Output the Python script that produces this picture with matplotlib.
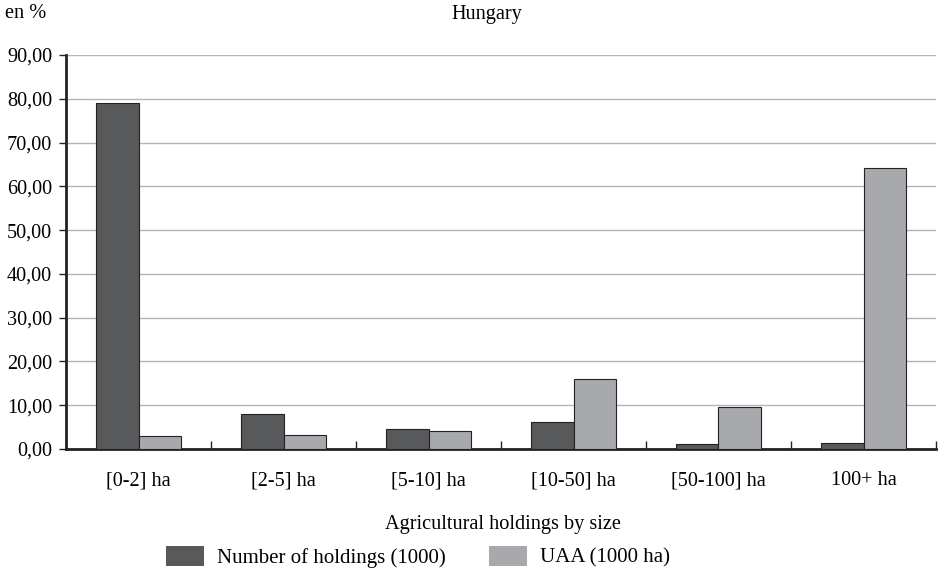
import matplotlib
matplotlib.use("Agg")
import matplotlib.pyplot as plt
import numpy as np
from matplotlib.patches import Patch

categories = ["[0-2] ha", "[2-5] ha", "[5-10] ha", "[10-50] ha", "[50-100] ha", "100+ ha"]
holdings = [79.0, 8.0, 4.6, 6.1, 1.1, 1.3]
uaa = [3.0, 3.1, 4.0, 16.1, 9.7, 64.2]
yticks = [0, 10, 20, 30, 40, 50, 60, 70, 80, 90]
ytick_labels = ["0,00", "10,00", "20,00", "30,00", "40,00", "50,00", "60,00", "70,00", "80,00", "90,00"]

plt.rcParams['font.family'] = ['Liberation Serif', 'DejaVu Serif']
fs = 14.6

fig = plt.figure(figsize=(9.39, 5.71), dpi=100)
ax = fig.add_axes([66/939, (571-449)/571, (936-66)/939, 394/571])

x = np.arange(len(categories))
w = 0.29
dark = "#58595b"
light = "#a7a9ac"
ax.bar(x - w/2, holdings, w, color=dark, edgecolor="#222222", linewidth=0.8, zorder=3)
ax.bar(x + w/2, uaa, w, color=light, edgecolor="#222222", linewidth=0.8, zorder=3)

ax.set_xlim(-0.5, len(categories) - 0.5)
ax.set_ylim(0, 90)
ax.set_yticks(yticks)
ax.set_yticklabels(ytick_labels, fontsize=fs)
ax.yaxis.grid(True, color="#b5b5b5", linewidth=1, zorder=0)
ax.set_axisbelow(True)

ax.set_xticks(x)
ax.set_xticklabels(categories, fontsize=fs)
ax.tick_params(axis='x', length=0, pad=16)
ax.set_xticks(np.arange(len(categories) + 1) - 0.5, minor=True)
ax.tick_params(axis='x', which='minor', direction='in', length=6, width=1, color="#222222")
ax.tick_params(axis='y', direction='out', length=5, width=1, color="#222222", pad=5)

for s in ["top", "right"]:
    ax.spines[s].set_visible(False)
ax.spines["left"].set_linewidth(2)
ax.spines["bottom"].set_linewidth(2)
ax.spines["left"].set_color("#222222")
ax.spines["bottom"].set_color("#222222")

fig.text(487/939, 1 - 14/571, "Hungary", ha="center", va="center", fontsize=fs)
fig.text(5/939, 1 - 14/571, "en %", ha="left", va="center", fontsize=fs)
fig.text(503/939, 1 - 524/571, "Agricultural holdings by size", ha="center", va="center", fontsize=fs)

lfs = 15
handles = [Patch(facecolor=dark, edgecolor="none"), Patch(facecolor=light, edgecolor="none")]
fig.legend(handles, ["Number of holdings (1000)", "UAA (1000 ha)"], loc="center",
           bbox_to_anchor=(418/939, 1 - 557/571), ncol=2, frameon=False, fontsize=lfs,
           handlelength=1.83, handleheight=1.06, columnspacing=2.1, handletextpad=0.6,
           borderpad=0, borderaxespad=0)

fig.savefig("out.png", dpi=100)
